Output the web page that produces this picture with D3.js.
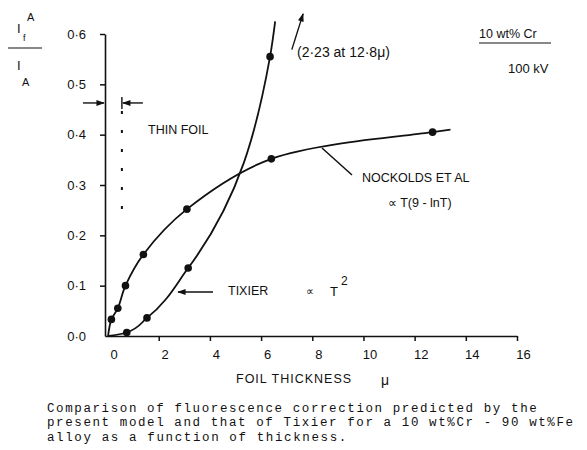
<!DOCTYPE html>
<html>
<head>
<meta charset="utf-8">
<script src="https://cdn.jsdelivr.net/npm/d3@7"></script>
<style>
  html, body { margin: 0; padding: 0; background: #fff; }
  svg text { fill: #111; font-family: "Liberation Sans", "DejaVu Sans", sans-serif; }
  .cap { font-family: "Liberation Mono", "DejaVu Sans Mono", monospace; font-size: 12.5px; }
</style>
</head>
<body>
<svg id="chart" width="587" height="450"></svg>
<script>
// Foil thickness (microns) and fluorescence ratio If/IA
const xTicks = [0, 2, 4, 6, 8, 10, 12, 14, 16];
const yTicks = [0, 0.1, 0.2, 0.3, 0.4, 0.5, 0.6];

// Nockolds et al. model: measured points and the drawn curve
const nockoldsX = [0.15, 0.4, 0.7, 1.4, 3.1, 6.4, 12.7];
const nockoldsY = [0.033, 0.055, 0.10, 0.162, 0.252, 0.352, 0.405];
const nockoldsStart = [0.02, 0];
const nockoldsEnd = [13.4, 0.41];

// Tixier model (∝ T²)
const tixierX = [0.75, 1.54, 3.15, 6.35];
const tixierY = [0.007, 0.036, 0.135, 0.555];
const tixierStart = [0.05, 0];
const tixierEnd = [6.55, 0.625];

// Thin-foil limit
const thinFoilX = 0.56;
const thinFoilTop = 0.463;
const thinFoilBottom = 0.25;

const svg = d3.select("#chart");
const ink = "#111";

const x = d3.scaleLinear().domain([-0.1, 16]).range([105, 517]);
const y = d3.scaleLinear().domain([0, 0.6]).range([336, 34]);

const fmt = d => d3.format(".1f")(d).replace(".", "·");

// arrowhead marker
const defs = svg.append("defs");
defs.append("marker")
  .attr("id", "arr").attr("viewBox", "0 0 10 10")
  .attr("refX", 9).attr("refY", 5)
  .attr("markerWidth", 7).attr("markerHeight", 6)
  .attr("orient", "auto-start-reverse")
  .append("path").attr("d", "M0,1.5 L10,5 L0,8.5 Z").attr("fill", ink);

// axes
const xAxis = svg.append("g")
  .attr("transform", `translate(0,${y(0)})`)
  .call(d3.axisBottom(x).tickValues(xTicks).tickSize(5).tickPadding(9).tickFormat(d3.format("d")).tickSizeOuter(0));
xAxis.selectAll("text").attr("dx", 6).style("font-size", "13px");

const yAxis = svg.append("g")
  .attr("transform", `translate(${x(-0.1)},0)`)
  .call(d3.axisLeft(y).tickValues(yTicks).tickSize(5).tickPadding(14).tickFormat(fmt).tickSizeOuter(0));
yAxis.selectAll("text").style("font-size", "13px");

svg.selectAll(".domain").attr("stroke", ink).attr("stroke-width", 1.6);
svg.selectAll(".tick line").attr("stroke", ink).attr("stroke-width", 1.5);
xAxis.select(".tick:first-of-type line").remove();
yAxis.select(".tick:first-of-type line").remove();

// curves
const nockLine = d3.line().x(d => x(d[0])).y(d => y(d[1])).curve(d3.curveCatmullRom.alpha(0.5));
const tixLine = d3.line().x(d => x(d[0])).y(d => y(d[1])).curve(d3.curveMonotoneY);

const nockPts = nockoldsX.map((v, i) => [v, nockoldsY[i]]);
const tixPts = tixierX.map((v, i) => [v, tixierY[i]]);

svg.append("path")
  .datum([nockoldsStart, ...nockPts, nockoldsEnd])
  .attr("d", nockLine).attr("fill", "none").attr("stroke", ink).attr("stroke-width", 1.8);

svg.append("path")
  .datum([tixierStart, ...tixPts, tixierEnd])
  .attr("d", tixLine).attr("fill", "none").attr("stroke", ink).attr("stroke-width", 1.8);

svg.append("g").selectAll("circle")
  .data([...nockPts, ...tixPts])
  .join("circle")
  .attr("cx", d => x(d[0])).attr("cy", d => y(d[1])).attr("r", 3.8).attr("fill", ink);

// thin-foil marker
svg.append("line")
  .attr("x1", x(thinFoilX)).attr("x2", x(thinFoilX))
  .attr("y1", y(thinFoilTop) + 8).attr("y2", y(thinFoilBottom))
  .attr("stroke", ink).attr("stroke-width", 2).attr("stroke-dasharray", "3,16");
svg.append("line")
  .attr("x1", x(thinFoilX)).attr("x2", x(thinFoilX))
  .attr("y1", y(thinFoilTop) - 6).attr("y2", y(thinFoilTop) + 6)
  .attr("stroke", ink).attr("stroke-width", 1.4);
svg.append("line")
  .attr("x1", x(thinFoilX) + 21).attr("x2", x(thinFoilX) + 1)
  .attr("y1", y(thinFoilTop)).attr("y2", y(thinFoilTop))
  .attr("stroke", ink).attr("stroke-width", 1.4).attr("marker-end", "url(#arr)");
svg.append("line")
  .attr("x1", x(-0.1) - 22).attr("x2", x(-0.1) - 1)
  .attr("y1", y(thinFoilTop)).attr("y2", y(thinFoilTop))
  .attr("stroke", ink).attr("stroke-width", 1.4).attr("marker-end", "url(#arr)");
svg.append("text").attr("x", 148).attr("y", 134)
  .style("font-size", "12.5px").text("THIN FOIL");

// off-scale arrow for the Tixier value at 12·8 μ
svg.append("line")
  .attr("x1", x(7.2)).attr("y1", y(0.569)).attr("x2", x(7.64)).attr("y2", y(0.64))
  .attr("stroke", ink).attr("stroke-width", 1.4).attr("marker-end", "url(#arr)");
svg.append("text").attr("x", 297).attr("y", 57)
  .style("font-size", "14px").text("(2·23 at 12·8μ)");

// legend block
svg.append("text").attr("x", 479).attr("y", 38).style("font-size", "12.5px").text("10 wt% Cr");
svg.append("line").attr("x1", 479).attr("x2", 551).attr("y1", 43).attr("y2", 43)
  .attr("stroke", ink).attr("stroke-width", 1.2);
svg.append("text").attr("x", 508).attr("y", 73).style("font-size", "13px").text("100 kV");

// Nockolds label
svg.append("line").attr("x1", 322).attr("y1", 148).attr("x2", 352).attr("y2", 175)
  .attr("stroke", ink).attr("stroke-width", 1.5);
svg.append("text").attr("x", 362).attr("y", 182).style("font-size", "12.5px").text("NOCKOLDS ET AL");
svg.append("text").attr("x", 388).attr("y", 207).style("font-size", "12.5px").text("∝ T(9 - lnT)");

// Tixier label
svg.append("line").attr("x1", 213).attr("y1", 292).attr("x2", 178).attr("y2", 292)
  .attr("stroke", ink).attr("stroke-width", 1.4).attr("marker-end", "url(#arr)");
svg.append("text").attr("x", 228).attr("y", 295).style("font-size", "12.5px").text("TIXIER");
svg.append("text").attr("x", 306).attr("y", 295).style("font-size", "11px").text("∝");
svg.append("text").attr("x", 330).attr("y", 296).style("font-size", "13px").text("T");
svg.append("text").attr("x", 341).attr("y", 285).style("font-size", "12px").text("2");

// y-axis title: If^A / IA
const yt = svg.append("g");
yt.append("text").attr("x", 17).attr("y", 33).style("font-size", "13px").text("I");
yt.append("text").attr("x", 27).attr("y", 21).style("font-size", "11px").text("A");
yt.append("text").attr("x", 23).attr("y", 41).style("font-size", "9px").text("f");
yt.append("line").attr("x1", 8).attr("x2", 42).attr("y1", 48).attr("y2", 48).attr("stroke", ink).attr("stroke-width", 1.2);
yt.append("text").attr("x", 17).attr("y", 70).style("font-size", "13px").text("I");
yt.append("text").attr("x", 22).attr("y", 86).style("font-size", "11px").text("A");

// x-axis title
svg.append("text").attr("x", 236).attr("y", 383).style("font-size", "12.5px").style("letter-spacing", "1px").text("FOIL THICKNESS");
svg.append("text").attr("x", 381).attr("y", 385).style("font-size", "14px").text("μ");

// caption
const caption = [
  "Comparison of fluorescence correction predicted by the",
  "present model and that of Tixier for a 10 wt%Cr - 90 wt%Fe",
  "alloy as a function of thickness."
];
svg.append("g").selectAll("text").data(caption).join("text")
  .attr("class", "cap")
  .attr("x", 47).attr("y", (d, i) => 412 + i * 14.3)
  .attr("textLength", d => d.length * 9.07).attr("lengthAdjust", "spacing")
  .text(d => d);
</script>
</body>
</html>
